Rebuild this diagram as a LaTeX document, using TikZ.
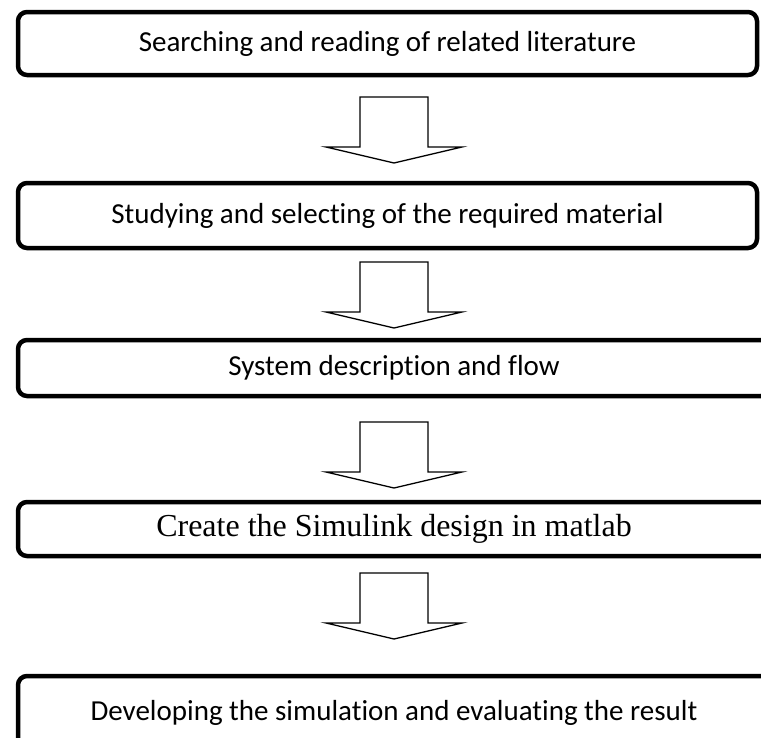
\documentclass[tikz,border=0pt]{standalone}
\usepackage{fontspec}
\setmainfont[Ligatures=NoCommon]{Carlito}
\newfontfamily\serifbox{Liberation Serif}
\usepackage{tikz}

\begin{document}
\begin{tikzpicture}[x=1pt, y=-1pt,
                    stepbox/.style={draw,
                                    line width=4.5pt,
                                    rounded corners=9pt,
                                    inner sep=0pt,
                                    font=\fontsize{29}{34}\selectfont},
                    blockarrow/.style={draw,
                                       line width=1.3pt,
                                       fill=white}]

                      \useasboundingbox (0, 0) rectangle (761, 737);
                      \clip (0, 0) rectangle (761, 737);

                      \node[stepbox, minimum width=739pt, minimum height=63pt] (s1) at (387.5, 43.5) {Searching and reading of related literature};
                      \node[stepbox, minimum width=739pt, minimum height=65pt] (s2) at (387.5, 215.5) {Studying and selecting of the required material};
                      \node[stepbox, minimum width=752pt, minimum height=56pt] (s3) at (394, 368) {System description and flow};
                      \node[stepbox, minimum width=752pt, minimum height=54pt,
                            font=\serifbox\fontsize{32}{36}\selectfont] (s4) at (394, 529) {Create the Simulink design in matlab};
                      \node[stepbox, minimum width=752pt, minimum height=74pt] (s5) at (394, 713) {Developing the simulation and evaluating the result};

                      \coordinate (a1) at (394, 97);
                      \coordinate (a2) at (394, 262);
                      \coordinate (a3) at (394, 422);
                      \coordinate (a4) at (394, 573);

                      \foreach \a in {a1, a2, a3, a4} {
                              \draw[blockarrow] (\a) ++(-34, 0) -- ++(0, 50) -- ++(-34, 0) -- ++(68, 16)
                                  -- ++(68, -16) -- ++(-34, 0) -- ++(0, -50) -- cycle;
                          }
                  \end{tikzpicture}
\end{document}
